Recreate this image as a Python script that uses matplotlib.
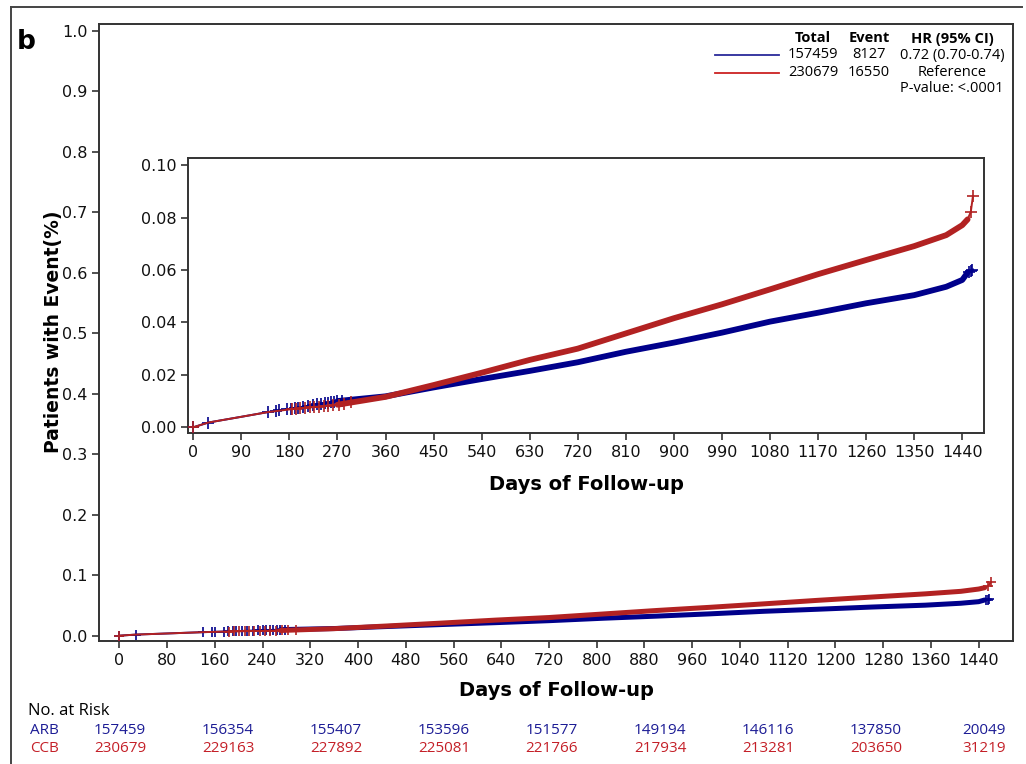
import numpy as np
import matplotlib
matplotlib.use("Agg")
import matplotlib.pyplot as plt
from matplotlib.lines import Line2D

# ---------------- data ----------------
days = [0, 28, 90, 140, 180, 270, 360, 450, 540, 630, 720, 810, 900, 990,
        1080, 1170, 1260, 1350, 1410, 1440, 1450, 1456, 1460]
arb_cum = [0, 0.0018, 0.0040, 0.0058, 0.0070, 0.0100, 0.0118, 0.0152, 0.0184,
           0.0215, 0.0248, 0.0288, 0.0323, 0.0361, 0.0403, 0.0437, 0.0473,
           0.0504, 0.0536, 0.0562, 0.0590, 0.0598, 0.0602]
ccb_cum = [0, 0.0018, 0.0040, 0.0058, 0.0068, 0.0086, 0.0116, 0.0161, 0.0208,
           0.0257, 0.0300, 0.0358, 0.0416, 0.0469, 0.0526, 0.0584, 0.0638,
           0.0691, 0.0733, 0.0771, 0.0793, 0.0822, 0.0882]
arb_censor = [0, 28, 140, 155, 160, 175, 182, 190, 196, 205, 214, 224, 232,
              240, 246, 252, 258, 264, 270, 278, 1452, 1456, 1458]
ccb_censor = [0, 184, 192, 200, 210, 218, 226, 236, 244, 252, 262, 272, 282,
              296, 1456, 1460]

at_risk_days = [0, 180, 360, 540, 720, 900, 1080, 1260, 1440]
arb_risk = ["157459", "156354", "155407", "153596", "151577", "149194", "146116", "137850", "20049"]
ccb_risk = ["230679", "229163", "227892", "225081", "221766", "217934", "213281", "203650", "31219"]

legend_header = ["Total", "Event", "HR (95% CI)"]
arb_legend = ["157459", "8127", "0.72 (0.70-0.74)"]
ccb_legend = ["230679", "16550", "Reference"]
pvalue_text = "P-value: <.0001"

outer_xticks = list(range(0, 1441, 80))
outer_yticks = [0.0, 0.1, 0.2, 0.3, 0.4, 0.5, 0.6, 0.7, 0.8, 0.9, 1.0]
inset_xticks = list(range(0, 1441, 90))
inset_yticks = [0.00, 0.02, 0.04, 0.06, 0.08, 0.10]

# ---------------- style ----------------
BLUE = "#00008B"
RED = "#B22222"
LEG_BLUE = "#2a2a9a"
LEG_RED = "#cc2222"
TXT_BLUE = "#1c1c95"
TXT_RED = "#c42028"
SPINE = "#333333"

plt.rcParams['font.family'] = ['DejaVu Sans']
W, H = 1026, 764
fig = plt.figure(figsize=(W / 100, H / 100), dpi=100)


def fx(px):
    return px / W


def fy(py):
    return 1 - py / H


def style_axes(ax):
    for s in ax.spines.values():
        s.set_color(SPINE)
        s.set_linewidth(1.4)
    ax.tick_params(direction='out', length=5, width=1.2, color=SPINE,
                   labelsize=11.5, labelcolor='#111111')
    for lab in ax.get_xticklabels() + ax.get_yticklabels():
        lab.set_family('DejaVu Sans')


days_a = np.array(days)
arb_a = np.array(arb_cum)
ccb_a = np.array(ccb_cum)
thick = (days_a >= 270) & (days_a <= 1450)


def draw_curves(ax, lw_thin, lw_thick, ms):
    ax.plot(days_a, arb_a, color=BLUE, lw=lw_thin, zorder=3)
    ax.plot(days_a[thick], arb_a[thick], color=BLUE, lw=lw_thick,
            solid_capstyle='round', solid_joinstyle='round', zorder=3)
    ax.plot(arb_censor, np.interp(arb_censor, days_a, arb_a), ls='none',
            marker='+', ms=ms, mew=1.2, color=BLUE, zorder=4)
    ax.plot(days_a, ccb_a, color=RED, lw=lw_thin, zorder=5)
    ax.plot(days_a[thick], ccb_a[thick], color=RED, lw=lw_thick,
            solid_capstyle='round', solid_joinstyle='round', zorder=5)
    ax.plot(ccb_censor, np.interp(ccb_censor, days_a, ccb_a), ls='none',
            marker='+', ms=ms, mew=1.2, color=RED, zorder=6)


# ---------------- outer axes ----------------
ax = fig.add_axes([fx(99.3), fy(641), fx(1013) - fx(99.3), fy(23.5) - fy(641)])
ax.set_xlim(-33.5, 1497.5)
ax.set_ylim(-0.0088, 1.012)
ax.set_xticks(outer_xticks)
ax.set_yticks(outer_yticks)
ax.set_yticklabels([f"{v:.1f}" for v in outer_yticks])
style_axes(ax)
draw_curves(ax, 1.4, 3.6, 7)

# ---------------- inset axes ----------------
ins = fig.add_axes([fx(188.3), fy(433.3), fx(984) - fx(188.3), fy(158.3) - fy(433.3)])
ins.set_xlim(-9.4, 1480.7)
ins.set_ylim(-0.0023, 0.1026)
ins.set_xticks(inset_xticks)
ins.set_yticks(inset_yticks)
ins.set_yticklabels([f"{v:.2f}" for v in inset_yticks])
style_axes(ins)
draw_curves(ins, 1.4, 4.2, 8)

# ---------------- labels ----------------
fig.text(fx(54), fy(332), "Patients with Event(%)", rotation=90, ha='center',
         va='center', fontsize=13.5, fontweight='bold')
fig.text(fx(586), fy(485), "Days of Follow-up", ha='center', va='center',
         fontsize=14, fontweight='bold')
fig.text(fx(556), fy(690), "Days of Follow-up", ha='center', va='center',
         fontsize=14, fontweight='bold')
fig.text(fx(17), fy(49), "b", ha='left', va='baseline', fontsize=19,
         fontweight='bold')

# ---------------- legend ----------------
LF = ['Open Sans', 'DejaVu Sans']
col_x = [813, 869, 952]
for cx, t in zip(col_x, legend_header):
    fig.text(fx(cx), fy(38.5), t, ha='center', va='center', fontsize=10.5,
             fontweight='bold', family=LF)
for cx, t in zip(col_x, arb_legend):
    fig.text(fx(cx), fy(55), t, ha='center', va='center', fontsize=10.5, family=LF)
for cx, t in zip(col_x, ccb_legend):
    fig.text(fx(cx), fy(72.5), t, ha='center', va='center', fontsize=10.5, family=LF)
fig.text(fx(1003), fy(89), pvalue_text, ha='right', va='center', fontsize=10.5,
         family=LF)
fig.add_artist(Line2D([fx(715), fx(779)], [fy(55), fy(55)], color=LEG_BLUE,
                      lw=1.3, transform=fig.transFigure))
fig.add_artist(Line2D([fx(715), fx(779)], [fy(72.5), fy(72.5)], color=LEG_RED,
                      lw=1.3, transform=fig.transFigure))

# ---------------- number at risk ----------------
fig.text(fx(28), fy(711), "No. at Risk", ha='left', va='center', fontsize=12,
         family=LF)
fig.text(fx(30), fy(730), "ARB", ha='left', va='center', fontsize=11,
         family=LF, color=TXT_BLUE)
fig.text(fx(30), fy(748), "CCB", ha='left', va='center', fontsize=11,
         family=LF, color=TXT_RED)
risk_x = np.linspace(120, 984, len(at_risk_days))
for px, a, c in zip(risk_x, arb_risk, ccb_risk):
    fig.text(fx(px), fy(730), a, ha='center', va='center', fontsize=11,
             family=LF, color=TXT_BLUE)
    fig.text(fx(px), fy(748), c, ha='center', va='center', fontsize=11,
             family=LF, color=TXT_RED)

# ---------------- panel border ----------------
fig.add_artist(Line2D([fx(10.7), fx(10.7)], [0, fy(7.3)], color='#444444',
                      lw=1.4, transform=fig.transFigure))
fig.add_artist(Line2D([fx(10.7), fx(1022)], [fy(7.3), fy(7.3)], color='#444444',
                      lw=1.4, transform=fig.transFigure))

fig.savefig("out.png", dpi=100)
